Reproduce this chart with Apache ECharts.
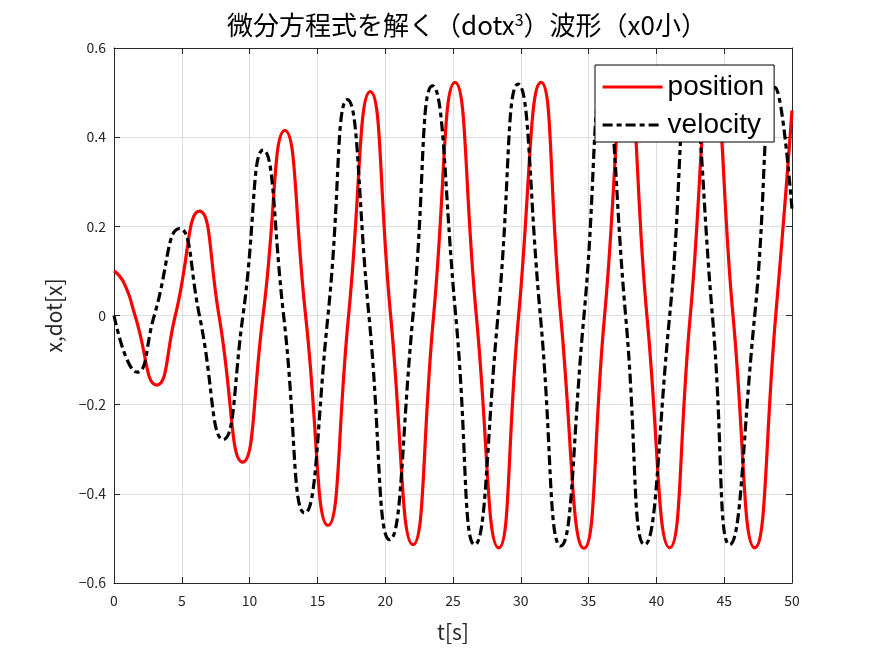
<!DOCTYPE html>
<html>
<head>
<meta charset="utf-8">
<script src="https://cdn.jsdelivr.net/npm/echarts@6/dist/echarts.min.js"></script>
<style>
    html, body { margin: 0; padding: 0; background: #fff; }
    #chart { width: 875px; height: 656px; }
</style>
</head>
<body>
<div id="chart"></div>
<script>
//values (peaks, zero crossings, ends)
const posT = [0, 0.75, 1.55, 3.15, 4.52, 6.3, 7.74, 9.48, 10.99, 12.6, 14.13, 15.78, 17.3, 18.9, 20.4,
    22.05, 23.57, 25.15, 26.72, 28.37, 29.84, 31.5, 32.94, 34.66, 36.18, 37.8, 39.3, 40.98,
    42.5, 44.1, 45.65, 47.25, 48.8, 50];
const posY = [0.1, 0.072, 0, -0.156, 0, 0.234, 0, -0.329, 0, 0.415, 0, -0.471, 0, 0.502, 0,
    -0.514, 0, 0.523, 0, -0.521, 0, 0.523, 0, -0.522, 0, 0.522, 0, -0.521,
    0, 0.522, 0, -0.521, 0, 0.46];

const velT = [0, 1.7, 2.97, 4.83, 6.3, 8.05, 9.51, 11.0, 12.51, 14.06, 15.78, 17.21, 18.8, 20.33,
    22.05, 23.48, 25.2, 26.6, 28.32, 29.8, 31.44, 32.94, 34.66, 36.1, 37.73, 39.13, 40.98,
    42.45, 44.13, 45.4, 47.25, 48.75, 50];
const velY = [0, -0.127, 0, 0.195, 0, -0.278, 0, 0.371, 0, -0.443, 0, 0.484, 0, -0.503,
    0, 0.515, 0, -0.514, 0, 0.519, 0, -0.517, 0, 0.518, 0, -0.514, 0,
    0.518, 0, -0.514, 0, 0.512, 0.239];

const xTicks = { min: 0, max: 50, interval: 5 };
const yTicks = { min: -0.6, max: 0.6, interval: 0.2 };

const AXIS_COLOR = '#262626';
const GRID_COLOR = '#dedede';
const JP_FONT = '"Noto Sans CJK JP", "Noto Sans", sans-serif';

function toPairs(ts, ys) {
    return ts.map((t, i) => [t, ys[i]]);
}

function yLabel(v) {
    if (Math.abs(v) < 1e-9) { return '0'; }
    return (v < 0 ? '\u2212' : '') + Math.abs(v).toFixed(1);
}

const chart = echarts.init(document.getElementById('chart'));

const baseAxis = {
    axisLine: { show: true, onZero: false, lineStyle: { color: AXIS_COLOR, width: 1 } },
    axisTick: { show: true, inside: true, length: 6, lineStyle: { color: AXIS_COLOR } },
    splitLine: { show: false }
};

const option = {
    backgroundColor: '#fff',
    animation: false,
    title: {
        text: '微分方程式を解く（dotx{sup|3}）波形（x0小）',
        left: 462,
        textAlign: 'center',
        top: 7,
        textStyle: {
            fontFamily: JP_FONT,
            fontSize: 26,
            fontWeight: 'normal',
            color: '#000',
            rich: {
                sup: { fontFamily: JP_FONT, fontSize: 16, color: '#000', verticalAlign: 'top' }
            }
        }
    },
    grid: { left: 114, right: 83, top: 48, bottom: 73 },
    legend: {
        orient: 'vertical',
        left: 595,
        top: 65,
        z: 20,
        padding: [8, 10, 3, 6],
        itemWidth: 60,
        itemHeight: 26,
        itemGap: 10,
        backgroundColor: '#fff',
        borderColor: '#000',
        borderWidth: 1,
        borderRadius: 0,
        itemStyle: { opacity: 0 },
        lineStyle: { width: 3.2 },
        textStyle: { fontFamily: '"Liberation Sans", Arial, sans-serif', fontSize: 28, color: '#000', lineHeight: 26 },
        data: ['position', 'velocity']
    },
    xAxis: [{
        ...baseAxis,
        type: 'value',
        min: xTicks.min,
        max: xTicks.max,
        interval: xTicks.interval,
        name: 't[s]',
        nameLocation: 'middle',
        nameGap: 39,
        nameTextStyle: { fontFamily: JP_FONT, fontSize: 21, color: AXIS_COLOR },
        axisLabel: { fontFamily: JP_FONT, fontSize: 14, color: AXIS_COLOR, margin: 11 },
        splitLine: { show: true, lineStyle: { color: GRID_COLOR, width: 1 } }
    }, {
        ...baseAxis,
        type: 'value',
        position: 'top',
        min: xTicks.min,
        max: xTicks.max,
        interval: xTicks.interval,
        axisLabel: { show: false }
    }],
    yAxis: [{
        ...baseAxis,
        type: 'value',
        min: yTicks.min,
        max: yTicks.max,
        interval: yTicks.interval,
        name: 'x,dot[x]',
        nameLocation: 'middle',
        nameGap: 49,
        nameTextStyle: { fontFamily: JP_FONT, fontSize: 21, color: AXIS_COLOR },
        axisLabel: { fontFamily: JP_FONT, fontSize: 14, color: AXIS_COLOR, margin: 8, formatter: yLabel },
        splitLine: { show: true, lineStyle: { color: GRID_COLOR, width: 1 } }
    }, {
        ...baseAxis,
        type: 'value',
        position: 'right',
        min: yTicks.min,
        max: yTicks.max,
        interval: yTicks.interval,
        axisLabel: { show: false }
    }],
    series: [{
        name: 'position',
        type: 'line',
        data: toPairs(posT, posY),
        smooth: 0.55,
        symbol: 'none',
        color: '#ff0000',
        lineStyle: { color: '#ff0000', width: 3.2 },
        z: 2
    }, {
        name: 'velocity',
        type: 'line',
        data: toPairs(velT, velY),
        smooth: 0.55,
        symbol: 'none',
        color: '#000',
        lineStyle: { color: '#000', width: 3.2, type: [10, 4, 5, 4] },
        z: 3
    }]
};

chart.setOption(option);
</script>
</body>
</html>
